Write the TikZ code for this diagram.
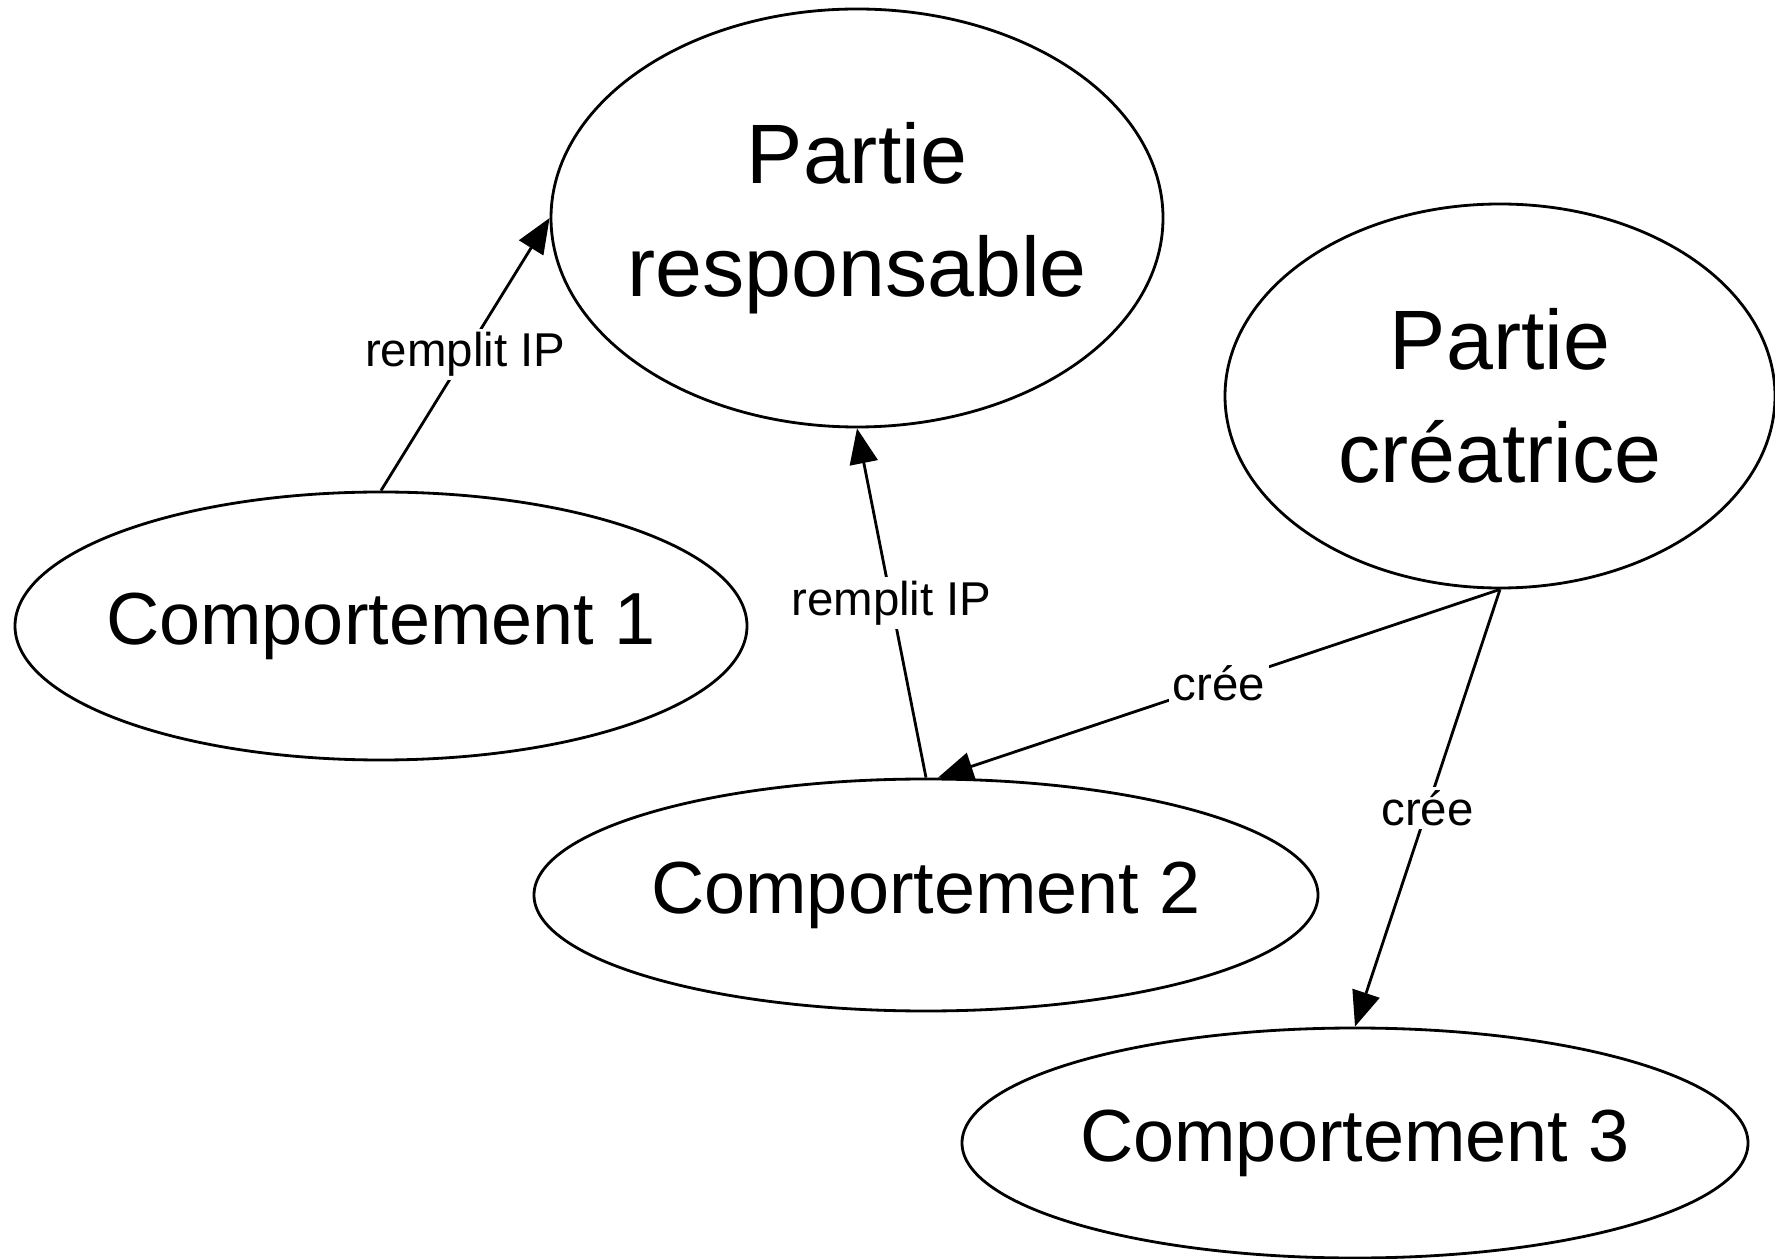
\documentclass[tikz,border=0pt]{standalone}
\usepackage{fontspec}
\setmainfont{Liberation Sans}
\usepackage{tikz}
\usetikzlibrary{shapes.geometric,arrows.meta}

\begin{document}
\begin{tikzpicture}[
        oval/.style={draw, ellipse, line width=0.8pt, inner xsep=-3cm, inner ysep=0pt, align=center},
        big/.style={font=\fontsize{24}{32}\selectfont},
        comp/.style={font=\fontsize{21}{25}\selectfont},
        rel/.style={line width=0.8pt, -{Triangle[length=10pt,width=8pt]}},
        lbl/.style={fill=white, inner sep=1pt, font=\fontsize{13.5}{16}\selectfont}
    ]
                \useasboundingbox (0, 0) rectangle (17.75, 12.58);

                \node[oval, big, minimum width=6.12cm, minimum height=4.18cm] (partresp) at (8.57, 10.40) {Partie\\responsable};
                \node[oval, big, minimum width=5.50cm, minimum height=3.84cm] (partcrea) at (15.00, 8.62) {Partie\\créatrice};
                \node[oval, comp, minimum width=7.32cm, minimum height=2.68cm] (comp1) at (3.81, 6.32) {Comportement 1};
                \node[oval, comp, minimum width=7.84cm, minimum height=2.32cm] (comp2) at (9.26, 3.63) {Comportement 2};
                \node[oval, comp, minimum width=7.86cm, minimum height=2.30cm] (comp3) at (13.55, 1.15) {Comportement 3};

                \draw[rel] (comp1.north) -- node[lbl] {remplit IP} (partresp.west);
                \draw[rel] (comp2.north) -- node[lbl] {remplit IP} (partresp.south);

                \draw[rel] (partcrea.south) -- node[lbl] {crée} ([xshift=0.12cm]comp2.north);
                \draw[rel] (partcrea.south) -- node[lbl] {crée} (comp3.north);
            \end{tikzpicture}
\end{document}
